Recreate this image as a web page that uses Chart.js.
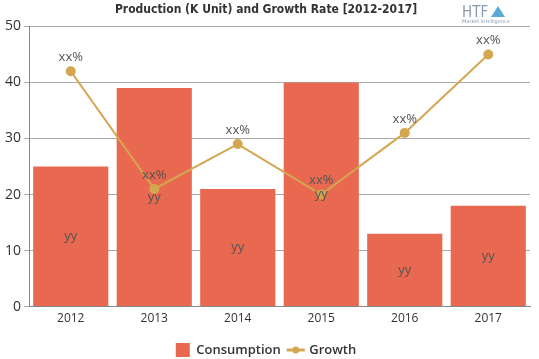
<!DOCTYPE html>
<html>
<head>
<meta charset="utf-8">
<script src="https://cdn.jsdelivr.net/npm/chart.js@4"></script>
<style>
  html, body { margin: 0; padding: 0; background: #fff; }
  #wrap { width: 539px; height: 359px; position: relative; }
</style>
</head>
<body>
<div id="wrap"><canvas id="prodChart"></canvas></div>
<script>
const years = ['2012', '2013', '2014', '2015', '2016', '2017'];
const consumption = [25, 39, 21, 40, 13, 18];
const growth = [42, 21, 29, 20, 31, 45];
const barLabels = ['yy', 'yy', 'yy', 'yy', 'yy', 'yy'];
const pointLabels = ['xx%', 'xx%', 'xx%', 'xx%', 'xx%', 'xx%'];

const barColor = '#e8694f';
const lineColor = '#d4a650';

// texte dans les barres et au-dessus des points
const valueLabels = {
  id: 'valueLabels',
  afterDatasetsDraw(chart) {
    const ctx = chart.ctx;
    ctx.save();
    ctx.font = '13px "Open Sans", sans-serif';
    ctx.fillStyle = '#555';
    ctx.textAlign = 'center';
    ctx.textBaseline = 'middle';
    chart.getDatasetMeta(0).data.forEach((bar, i) => {
      ctx.fillText(barLabels[i], bar.x, (bar.y + bar.base) / 2);
    });
    chart.getDatasetMeta(1).data.forEach((pt, i) => {
      ctx.fillText(pointLabels[i], pt.x, pt.y - 14);
    });
    ctx.restore();
  }
};

// marqueur ligne + point pour "Growth" dans la légende
const growthMarker = {
  id: 'growthMarker',
  afterDraw(chart) {
    const box = chart.legend && chart.legend.legendHitBoxes && chart.legend.legendHitBoxes[1];
    if (!box) return;
    const ctx = chart.ctx;
    const cy = box.top + box.height / 2;
    ctx.save();
    ctx.strokeStyle = lineColor;
    ctx.fillStyle = lineColor;
    ctx.lineWidth = 3;
    ctx.beginPath();
    ctx.moveTo(box.left - 2, cy);
    ctx.lineTo(box.left + 16, cy);
    ctx.stroke();
    ctx.beginPath();
    ctx.arc(box.left + 7, cy, 3.5, 0, Math.PI * 2);
    ctx.fill();
    ctx.restore();
  }
};

// petit logo en haut à droite
const logo = {
  id: 'logo',
  afterDraw(chart) {
    const ctx = chart.ctx;
    ctx.save();
    ctx.fillStyle = '#8a9bb0';
    ctx.font = '15px "DejaVu Sans Condensed", sans-serif';
    ctx.textAlign = 'left';
    ctx.textBaseline = 'alphabetic';
    ctx.fillText('HTF', 462, 17);
    ctx.fillStyle = '#5aa9d6';
    ctx.beginPath();
    ctx.moveTo(491, 17);
    ctx.lineTo(498, 6);
    ctx.lineTo(505, 17);
    ctx.closePath();
    ctx.fill();
    ctx.fillStyle = '#8a9bb0';
    ctx.font = '5px "DejaVu Sans", sans-serif';
    ctx.fillText('Market Intelligence', 462, 23);
    ctx.restore();
  }
};

document.addEventListener('DOMContentLoaded', () => {
  const ctx = document.getElementById('prodChart').getContext('2d');
  new Chart(ctx, {
    data: {
      labels: years,
      datasets: [
        {
          type: 'bar',
          label: 'Consumption',
          data: consumption,
          backgroundColor: barColor,
          borderWidth: 0,
          barPercentage: 0.9,
          categoryPercentage: 1.0,
          order: 2
        },
        {
          type: 'line',
          label: 'Growth',
          data: growth,
          borderColor: lineColor,
          backgroundColor: lineColor,
          borderWidth: 2,
          tension: 0,
          pointRadius: 4,
          pointHoverRadius: 4,
          order: 1
        }
      ]
    },
    options: {
      responsive: true,
      maintainAspectRatio: false,
      animation: false,
      layout: { padding: { left: 2, right: 9, top: 0, bottom: -8 } },
      plugins: {
        title: {
          display: true,
          text: 'Production (K Unit) and Growth Rate [2012-2017]',
          color: '#333',
          font: { family: '"DejaVu Sans Condensed", "Liberation Sans Narrow", sans-serif', size: 12, weight: 'bold' },
          padding: { top: 3, bottom: 9 }
        },
        legend: {
          position: 'bottom',
          labels: {
            boxWidth: 14,
            boxHeight: 14,
            color: '#333',
            font: { family: '"Open Sans", sans-serif', size: 13, weight: '600' },
            padding: 8,
            generateLabels(chart) {
              return chart.data.datasets.map((ds, i) => ({
                text: ds.label,
                datasetIndex: i,
                fillStyle: ds.type === 'bar' ? barColor : 'rgba(0,0,0,0)',
                strokeStyle: 'rgba(0,0,0,0)',
                lineWidth: 0,
                fontColor: '#333',
                hidden: false
              }));
            }
          }
        },
        tooltip: { enabled: false }
      },
      scales: {
        x: {
          grid: { display: false, drawTicks: false, tickLength: 0 },
          border: { color: '#888' },
          ticks: { color: '#333', padding: 5, font: { family: '"Open Sans", sans-serif', size: 12 } },
          afterFit(scale) { scale.height += 4; }
        },
        y: {
          min: 0,
          max: 50,
          ticks: { stepSize: 10, color: '#333', font: { family: '"Open Sans", sans-serif', size: 14 }, padding: 3 },
          grid: { color: '#aaa', tickLength: 5 },
          border: { color: '#888' }
        }
      }
    },
    plugins: [valueLabels, growthMarker, logo]
  });
});
</script>
</body>
</html>
